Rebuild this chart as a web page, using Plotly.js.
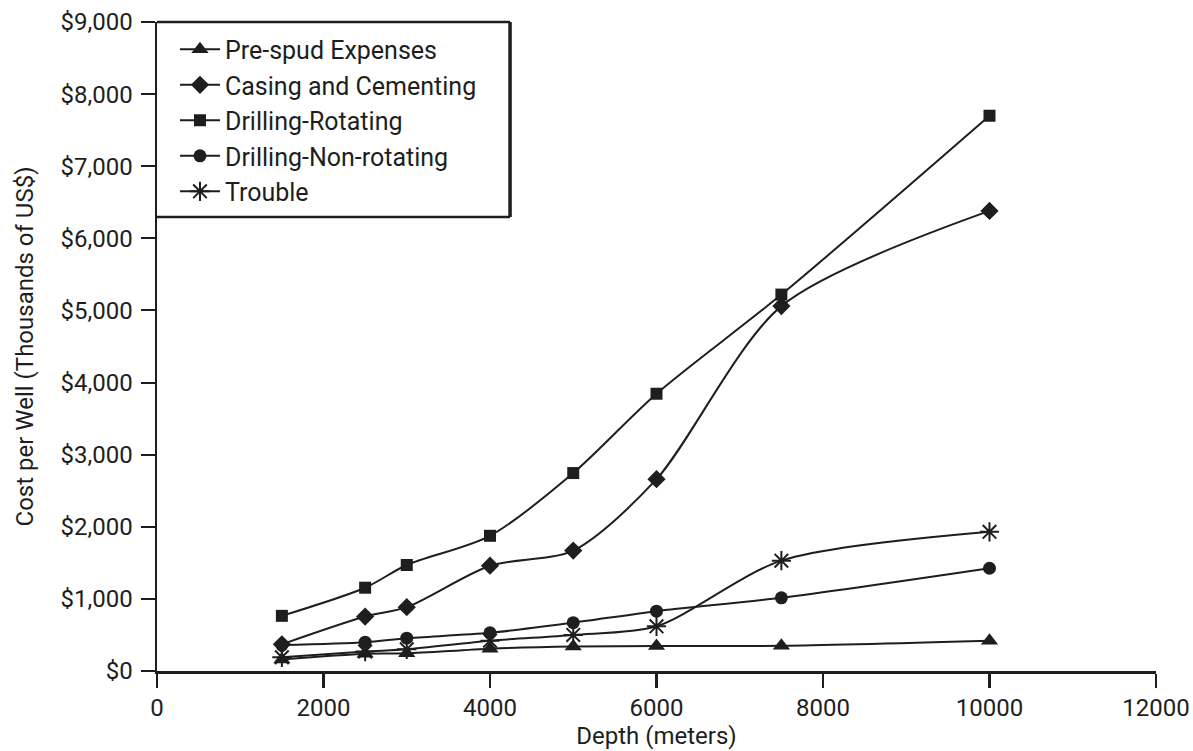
<!DOCTYPE html>
<html>
<head>
<meta charset="utf-8">
<script src="https://cdn.plot.ly/plotly-3.0.1.min.js"></script>
<style>html,body{margin:0;padding:0;background:#fff;}#chart{width:1193px;height:751px;}</style>
</head>
<body>
<div id="chart"></div>
<script>
const depth = [1500, 2500, 3000, 4000, 5000, 6000, 7500, 10000];
const preSpud = [160, 240, 245, 310, 340, 345, 350, 420];
const casingCementing = [370, 755, 885, 1460, 1670, 2660, 5060, 6380];
const drillingRotating = [765, 1155, 1470, 1875, 2745, 3845, 5220, 7700];
const drillingNonRotating = [360, 400, 455, 530, 670, 830, 1015, 1425];
const trouble = [190, 270, 300, 420, 500, 620, 1530, 1930];

const seriesNames = ['Pre-spud Expenses', 'Casing and Cementing', 'Drilling-Rotating', 'Drilling-Non-rotating', 'Trouble'];
const seriesValues = [preSpud, casingCementing, drillingRotating, drillingNonRotating, trouble];
const symbols = ['triangle-up', 'diamond', 'square', 'circle', 'asterisk-open'];
const sizes = [15, 14, 12, 13, 16];

const ink = '#1e1e1e';
const traces = seriesNames.map((n, i) => ({
  type: 'scatter', mode: 'lines+markers', name: n,
  x: depth, y: seriesValues[i],
  line: {color: ink, width: 2, shape: 'spline', smoothing: 0.8},
  marker: {symbol: symbols[i], size: sizes[i], color: ink, line: {color: ink, width: symbols[i] === 'asterisk-open' ? 2 : 0}},
  cliponaxis: false
}));

const font = 'Roboto, Lato, sans-serif';

const layout = {
  width: 1193, height: 751,
  margin: {l: 157, r: 37, t: 22, b: 80},
  paper_bgcolor: '#fff', plot_bgcolor: '#fff',
  showlegend: true,
  legend: {
    x: 0.018, y: 0.993, xanchor: 'left', yanchor: 'top',
    bgcolor: 'rgba(0,0,0,0)', borderwidth: 0,
    font: {family: font, size: 25, color: ink},
    itemwidth: 40, tracegroupgap: 0
  },
  xaxis: {
    range: [0, 12000], dtick: 2000, tick0: 0, tickformat: 'd',
    showgrid: false, zeroline: false,
    showline: true, linecolor: ink, linewidth: 2.5,
    ticks: 'outside', ticklen: 14, tickwidth: 2.5, tickcolor: ink,
    tickfont: {family: font, size: 24, color: ink},
    title: {text: 'Depth (meters)', font: {family: font, size: 24, color: ink}, standoff: 0}
  },
  yaxis: {
    range: [0, 9000], dtick: 1000, tick0: 0,
    tickprefix: '$', tickformat: ',d',
    showgrid: false, zeroline: false,
    showline: true, linecolor: ink, linewidth: 2.5,
    ticks: 'outside', ticklen: 14, tickwidth: 2, tickcolor: ink,
    ticklabelstandoff: 3,
    tickfont: {family: font, size: 24, color: ink},
    title: {text: 'Cost per Well (Thousands of US$)', font: {family: font, size: 24, color: ink}, standoff: 20}
  },
  shapes: [
    {type: 'line', xref: 'paper', yref: 'paper', x0: 0, x1: 0.3534, y0: 1, y1: 1, line: {color: ink, width: 2.5}},
    {type: 'line', xref: 'paper', yref: 'paper', x0: 0, x1: 0.3534, y0: 0.6995, y1: 0.6995, line: {color: ink, width: 2.5}},
    {type: 'line', xref: 'paper', yref: 'paper', x0: 0.3534, x1: 0.3534, y0: 0.6995, y1: 1, line: {color: ink, width: 3.5}}
  ]
};

Plotly.newPlot('chart', traces, layout, {displayModeBar: false, staticPlot: true});
</script>
</body>
</html>
